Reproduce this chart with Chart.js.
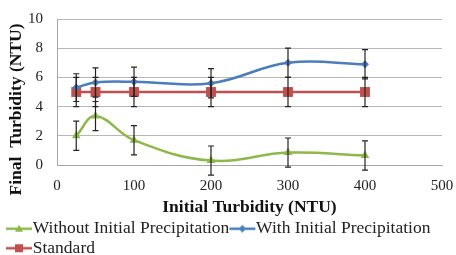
<!DOCTYPE html>
<html>
<head>
<meta charset="utf-8">
<script src="https://cdn.jsdelivr.net/npm/chart.js@4.4.1/dist/chart.umd.min.js"></script>
<style>
  html, body { margin: 0; padding: 0; background: #fff; }
  canvas { display: block; }
</style>
</head>
<body>
<canvas id="myChart" width="456" height="255"></canvas>
<script>
// datos
const initialTurbidity = [25, 50, 100, 200, 300, 400];
const withoutPrecip = [2.0, 3.35, 1.7, 0.3, 0.85, 0.65];
const withPrecip = [5.3, 5.65, 5.7, 5.6, 7.0, 6.9];
const standard = [5, 5, 5, 5, 5, 5];
const withoutErr = [1, 1, 1, 1, 1, 1];
const withErr = [0.95, 1, 1, 1, 1, 1];
const standardErr = [1, 1, 1, 1, 1, 1];

const GREEN = '#8fb84a';
const BLUE = '#4a7ebb';
const RED = '#c0504d';
const FONT = "'Liberation Serif', 'Times New Roman', serif";

// icono de leyenda: linea con marcador
function legendIcon(color, marker) {
  const c = document.createElement('canvas');
  c.width = 34; c.height = 12;
  const g = c.getContext('2d');
  g.strokeStyle = color;
  g.fillStyle = color;
  g.lineWidth = 2.5;
  g.beginPath();
  g.moveTo(7, 6); g.lineTo(33, 6);
  g.stroke();
  const cx = 20, cy = 6;
  g.beginPath();
  if (marker === 'triangle') {
    g.moveTo(cx, cy - 4); g.lineTo(cx + 4, cy + 3); g.lineTo(cx - 4, cy + 3);
  } else if (marker === 'diamond') {
    g.moveTo(cx, cy - 4); g.lineTo(cx + 3.5, cy); g.lineTo(cx, cy + 4); g.lineTo(cx - 3.5, cy);
  } else {
    g.rect(cx - 4, cy - 4, 8, 8);
  }
  g.closePath();
  g.fill();
  return c;
}

const icons = [legendIcon(GREEN, 'triangle'), legendIcon(BLUE, 'diamond'), legendIcon(RED, 'square')];
const errors = [withoutErr, withErr, standardErr];

// barras de error dibujadas con las escalas del grafico
const errorBars = {
  id: 'errorBars',
  afterDatasetsDraw(chart) {
    const ctx = chart.ctx;
    const xs = chart.scales.x, ys = chart.scales.y;
    ctx.save();
    ctx.strokeStyle = '#222';
    ctx.lineWidth = 1.2;
    chart.data.datasets.forEach((ds, i) => {
      ds.data.forEach((p, j) => {
        const x = xs.getPixelForValue(p.x);
        const top = ys.getPixelForValue(p.y + errors[i][j]);
        const bot = ys.getPixelForValue(p.y - errors[i][j]);
        ctx.beginPath();
        ctx.moveTo(x, top); ctx.lineTo(x, bot);
        ctx.moveTo(x - 3, top); ctx.lineTo(x + 3, top);
        ctx.moveTo(x - 3, bot); ctx.lineTo(x + 3, bot);
        ctx.stroke();
      });
    });
    ctx.restore();
  }
};

function points(ys) {
  return initialTurbidity.map((x, i) => ({ x: x, y: ys[i] }));
}

const ctx = document.getElementById('myChart').getContext('2d');
const myChart = new Chart(ctx, {
  type: 'line',
  data: {
    datasets: [
      {
        label: 'Without Initial Precipitation',
        data: points(withoutPrecip),
        borderColor: GREEN, backgroundColor: GREEN,
        borderWidth: 2.5, tension: 0.4,
        pointStyle: 'triangle', pointRadius: 5, pointBorderWidth: 0
      },
      {
        label: 'With Initial Precipitation',
        data: points(withPrecip),
        borderColor: BLUE, backgroundColor: BLUE,
        borderWidth: 2.5, tension: 0.4,
        pointStyle: 'rectRot', pointRadius: 4, pointBorderWidth: 0
      },
      {
        label: 'Standard',
        data: points(standard),
        borderColor: RED, backgroundColor: RED,
        borderWidth: 2.5, tension: 0,
        pointStyle: 'rect', pointRadius: 7, pointBorderWidth: 0
      }
    ]
  },
  options: {
    responsive: false,
    animation: false,
    layout: { padding: { left: 6, right: 14, top: 19, bottom: -12 } },
    plugins: {
      tooltip: { enabled: false },
      legend: {
        position: 'bottom',
        align: 'start',
        labels: {
          font: { family: FONT, size: 17.5 },
          color: '#222',
          usePointStyle: true,
          pointStyleWidth: 16,
          boxHeight: 12,
          padding: 2,
          generateLabels(chart) {
            return chart.data.datasets.map((ds, i) => ({
              text: ds.label,
              fillStyle: ds.borderColor,
              strokeStyle: ds.borderColor,
              lineWidth: 0,
              pointStyle: icons[i],
              hidden: false,
              datasetIndex: i,
              fontColor: '#222'
            }));
          }
        }
      }
    },
    scales: {
      x: {
        type: 'linear',
        min: 0, max: 500,
        afterFit(scale) { scale.height = 53; scale.paddingLeft = 0; scale.paddingRight = 0; },
        ticks: { stepSize: 100, padding: 12, maxRotation: 0, color: '#222', font: { family: FONT, size: 15 } },
        grid: { display: false, drawTicks: false },
        border: { color: '#a6a6a6' },
        title: {
          display: true,
          text: 'Initial Turbidity (NTU)',
          color: '#111',
          font: { family: FONT, size: 17.5, weight: 'bold' },
          padding: { top: 2, bottom: 0 }
        }
      },
      y: {
        min: 0, max: 10,
        afterFit(scale) { scale.width = 51; scale.paddingTop = 0; scale.paddingBottom = 0; },
        ticks: { stepSize: 2, padding: 14, color: '#222', font: { family: FONT, size: 15 } },
        grid: { color: '#b8b8b8', drawTicks: false },
        border: { color: '#a6a6a6' },
        title: {
          display: true,
          text: 'Final  Turbidity (NTU)        ',
          color: '#111',
          font: { family: FONT, size: 17.5, weight: 'bold' },
          padding: { top: 0, bottom: 4 }
        }
      }
    }
  },
  plugins: [errorBars]
});
</script>
</body>
</html>
